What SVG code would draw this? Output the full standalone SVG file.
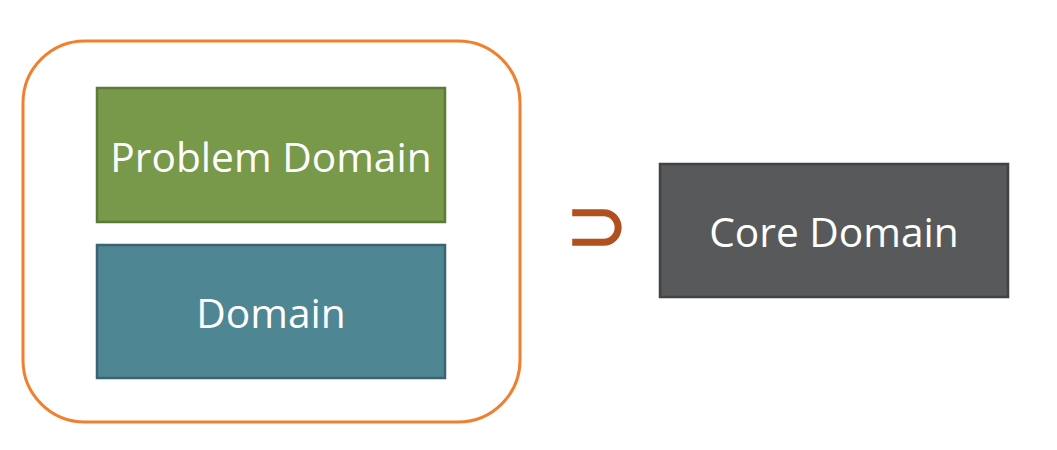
<svg xmlns="http://www.w3.org/2000/svg" width="1057" height="450" viewBox="0 0 1057 450">
<style>
.box{stroke-width:2.5}
.lbl{font-family:"Open Sans","Liberation Sans",sans-serif;font-size:40.7px;fill:#ffffff;text-anchor:middle}
</style>
<rect x="0" y="0" width="1057" height="450" fill="#ffffff"/>
<g id="container">
<rect x="23" y="41" width="497" height="381" rx="62" ry="62" fill="#ffffff" stroke="#F0802F" stroke-width="3"/>
</g>
<g id="problem-domain">
<rect class="box" x="97" y="88" width="348" height="134" fill="#78994A" stroke="#5B7B36"/>
<text class="lbl" x="271" y="172">Problem Domain</text>
</g>
<g id="domain">
<rect class="box" x="97" y="245" width="348" height="133" fill="#4F8694" stroke="#3A6472"/>
<text class="lbl" x="271" y="328">Domain</text>
</g>
<g id="connectors">
<text x="597" y="251" font-family="DejaVu Sans,sans-serif" font-size="75" fill="#B1501F" stroke="#B1501F" stroke-width="1.5" text-anchor="middle">⊃</text>
</g>
<g id="core-domain">
<rect class="box" x="660" y="164" width="348" height="133" fill="#58595B" stroke="#414244"/>
<text class="lbl" x="834" y="247">Core Domain</text>
</g>
</svg>
